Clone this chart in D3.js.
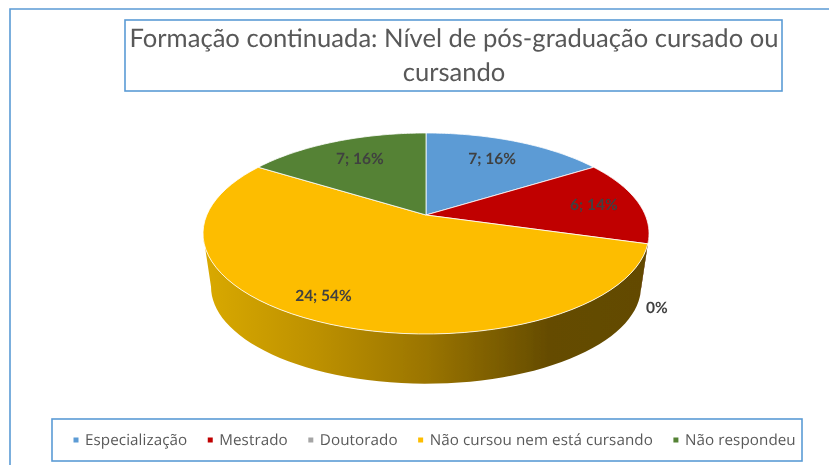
<!DOCTYPE html>
<html><head><meta charset="utf-8">
<script src="https://cdn.jsdelivr.net/npm/d3@7/dist/d3.min.js"></script>
<style>html,body{margin:0;padding:0;background:#fff;overflow:hidden}svg{display:block}text{text-rendering:geometricPrecision}</style>
</head><body><svg id="c" width="829" height="465"></svg>
<script>
const titleLines = ["Formação continuada: Nível de pós-graduação cursado ou", "cursando"];
const categories = ["Especialização", "Mestrado", "Doutorado", "Não cursou nem está cursando", "Não respondeu"];
const values = [7, 6, 0, 24, 7];
const percents = [16, 14, 0, 54, 16];
const colors = ["#5b9bd5", "#c00000", "#a5a5a5", "#fdbd00", "#548235"];
const labelRadii = [0.7, 0.79, 1, 0.72, 0.7];
const labelNudgeX = [0, 0, 9, -28, 0];
const labelNudgeY = [-2, 1, 64, 9, -2];

const W = 829, H = 465, frame = "#5b9bd5";
const svg = d3.select("#c");
const defs = svg.append("defs");
defs.append("filter").attr("id", "soft").append("feGaussianBlur").attr("stdDeviation", 0.45);
const root = svg.append("g").attr("filter", "url(#soft)");

// frames
root.append("path").attr("d", `M10,${H}V9H${W}`).attr("fill", "none").attr("stroke", frame).attr("stroke-width", 1.6);
root.append("rect").attr("x", 125).attr("y", 20).attr("width", 657).attr("height", 71)
  .attr("fill", "#fff").attr("stroke", frame).attr("stroke-width", 1.6);
root.append("rect").attr("x", 52).attr("y", 419).attr("width", 750).attr("height", 42)
  .attr("fill", "#fff").attr("stroke", frame).attr("stroke-width", 1.6);

// title
root.selectAll("text.t").data(titleLines).join("text").attr("class", "t")
  .attr("x", 454).attr("y", (d, i) => 47 + i * 34).attr("text-anchor", "middle")
  .attr("font-family", "Lato").attr("font-size", 25.6).attr("fill", "#595959")
  .text(d => d);

// perspective projection of the pie disc
const k = 0.184;
const project = (a, r, o) => {
  const u = r * Math.sin(a), v = -r * Math.cos(a), d = 1 - k * v;
  return [o.cx + o.A * u / d, o.cy + o.B * v / d];
};
const topDisc = {cx: 426, cy: 215, A: 219.2, B: 97.1};
const baseDisc = {cx: 426, cy: 269, A: 211.3, B: 93.6};

const pie = d3.pie().sort(null).value(d => d);
const arcs = pie(values);
const line = d3.line();
const arcPts = (a0, a1, o) => d3.range(0, 61).map(i => project(a0 + (a1 - a0) * i / 60, 1, o));

// side wall
const grad = defs.append("linearGradient").attr("id", "side").attr("gradientUnits", "userSpaceOnUse")
  .attr("x1", 205).attr("x2", 645).attr("y1", 0).attr("y2", 0);
[[0, "#d9a900"], [0.25, "#bd9100"], [0.5, "#9b7500"], [0.78, "#654c00"], [1, "#634a00"]]
  .forEach(s => grad.append("stop").attr("offset", s[0]).attr("stop-color", s[1]));
const sideStart = Math.acos(-k), sideEnd = 2 * Math.PI - sideStart;
const yellow = arcs[3];
const a0 = Math.max(sideStart, yellow.startAngle), a1 = Math.min(sideEnd, yellow.endAngle);
const red = arcs[1];
root.append("path")
  .attr("d", line([...arcPts(sideStart, red.endAngle, topDisc), ...arcPts(red.endAngle, sideStart, baseDisc)]) + "Z")
  .attr("fill", "#600000");
root.append("path")
  .attr("d", line([...arcPts(a0, a1, topDisc), ...arcPts(a1, a0, baseDisc)]) + "Z")
  .attr("fill", "url(#side)");

// top slices
root.selectAll("path.s").data(arcs.filter(d => d.value > 0)).join("path").attr("class", "s")
  .attr("d", d => line([project(0, 0, topDisc), ...arcPts(d.startAngle, d.endAngle, topDisc)]) + "Z")
  .attr("fill", (d) => colors[d.index])
  .attr("stroke", "#fff").attr("stroke-width", 0.8).attr("stroke-linejoin", "round");

// data labels
root.selectAll("text.l").data(arcs).join("text").attr("class", "l")
  .each(function (d) {
    const m = (d.startAngle + d.endAngle) / 2, p = project(m, labelRadii[d.index], topDisc);
    d3.select(this).attr("x", p[0] + labelNudgeX[d.index]).attr("y", p[1] + labelNudgeY[d.index] + 5);
  })
  .attr("text-anchor", "middle").attr("font-family", "Lato").attr("font-size", 15.5)
  .attr("font-weight", 700).attr("fill", "#404040")
  .text(d => d.value > 0 ? `${d.value}; ${percents[d.index]}%` : `${percents[d.index]}%`);

// legend
let lx = 72;
categories.forEach((c, i) => {
  root.append("rect").attr("x", lx + 1.5).attr("y", 437.5).attr("width", 5).attr("height", 5).attr("fill", colors[i]);
  const t = root.append("text").attr("x", lx + 13).attr("y", 445).attr("font-family", "'Open Sans'")
    .attr("font-size", 15.2).attr("letter-spacing", 0.08).attr("fill", "#595959").text(c);
  lx += t.node().getComputedTextLength() + 32;
});
</script></body></html>
